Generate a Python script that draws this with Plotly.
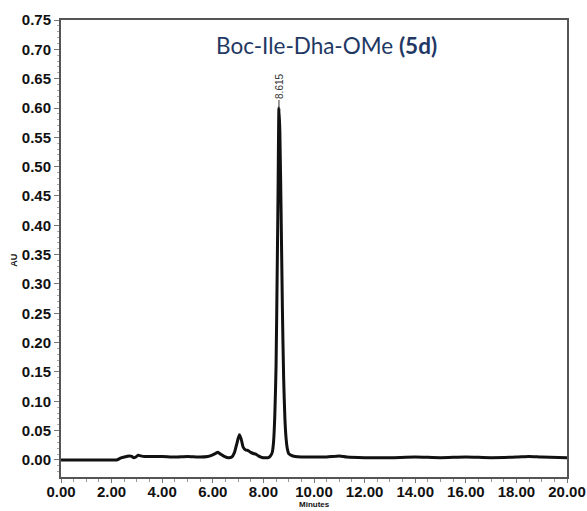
import plotly.graph_objects as go

# Chromatogram trace: retention time (min) and detector response (AU)
time_min = [
    0.00, 1.00, 2.00, 2.20, 2.30, 2.40, 2.50, 2.60, 2.70, 2.80, 2.86, 2.95,
    3.05, 3.15, 3.30, 3.60, 4.00, 4.50, 5.00, 5.50, 5.80, 5.95, 6.10, 6.20,
    6.30, 6.45, 6.60, 6.75, 6.85, 6.95, 7.05, 7.12, 7.20, 7.30, 7.40, 7.50,
    7.60, 7.70, 7.80, 7.90, 8.00, 8.10, 8.20, 8.28, 8.35, 8.40, 8.45, 8.50,
    8.55, 8.58, 8.615, 8.65, 8.70, 8.75, 8.80, 8.85, 8.90, 8.95, 9.00, 9.10,
    9.25, 9.50, 10.00, 10.50, 11.00, 11.30, 12.00, 13.00, 14.00, 15.00,
    16.00, 17.00, 18.00, 18.50, 19.00, 20.00,
]
absorbance_au = [
    0.000, 0.000, 0.000, 0.000, 0.002, 0.004, 0.005, 0.006, 0.007, 0.006, 0.004, 0.005,
    0.008, 0.007, 0.006, 0.006, 0.006, 0.005, 0.006, 0.005, 0.006, 0.008, 0.011, 0.013,
    0.010, 0.006, 0.004, 0.005, 0.012, 0.028, 0.043, 0.036, 0.022, 0.017, 0.016, 0.013,
    0.011, 0.010, 0.007, 0.005, 0.004, 0.004, 0.004, 0.007, 0.013, 0.030, 0.075, 0.160,
    0.340, 0.460, 0.600, 0.560, 0.420, 0.260, 0.140, 0.070, 0.035, 0.018, 0.011, 0.008,
    0.006, 0.005, 0.005, 0.005, 0.007, 0.005, 0.004, 0.004, 0.005, 0.004,
    0.005, 0.004, 0.005, 0.006, 0.005, 0.004,
]

peak_time = 8.615
peak_height = 0.600

x_ticks = [0, 2, 4, 6, 8, 10, 12, 14, 16, 18, 20]
y_ticks = [0.00, 0.05, 0.10, 0.15, 0.20, 0.25, 0.30, 0.35, 0.40, 0.45,
           0.50, 0.55, 0.60, 0.65, 0.70, 0.75]

title_text = "Boc-Ile-Dha-OMe <b>(5d)</b>"

fig = go.Figure()
fig.add_trace(go.Scatter(
    x=time_min, y=absorbance_au, mode="lines",
    line=dict(color="#111111", width=3, shape="spline", smoothing=0.6),
    hoverinfo="skip", showlegend=False,
))

tick_font = dict(family="Liberation Sans, Arial", size=15, color="#111111", weight="bold")

fig.update_layout(
    width=587, height=511,
    margin=dict(l=61, r=20, t=20, b=34, autoexpand=False),
    paper_bgcolor="white", plot_bgcolor="white",
    template="none",
    xaxis=dict(
        range=[0, 20], tickvals=x_ticks, ticktext=[f"{v:.2f}" for v in x_ticks],
        showgrid=False, zeroline=False, automargin=False,
        ticklabeloverflow="allow", ticklabelstandoff=-4,
        showline=True, linecolor="#555555", linewidth=2, mirror=True,
        ticks="outside", ticklen=4, tickcolor="#777777", tickwidth=1,
        minor=dict(dtick=0.5, ticks="outside", ticklen=3, tickcolor="#999999"),
        tickfont=tick_font,
    ),
    yaxis=dict(
        range=[-0.029, 0.75], tickvals=y_ticks, ticktext=[f"{v:.2f}" for v in y_ticks],
        showgrid=False, zeroline=False, automargin=False,
        showline=True, linecolor="#555555", linewidth=2, mirror=True,
        ticks="outside", ticklen=5, tickcolor="#777777", tickwidth=1,
        minor=dict(dtick=0.01, ticks="outside", ticklen=2, tickcolor="#aaaaaa"),
        tickfont=tick_font,
    ),
    annotations=[
        dict(text=title_text, xref="paper", yref="paper", x=0.524, y=0.945,
             showarrow=False, xanchor="center", yanchor="middle",
             font=dict(family="Lato, Open Sans", size=22.5, color="#1F3864")),
        dict(text=f"{peak_time:.3f}", x=peak_time, y=peak_height,
             xref="x", yref="y", showarrow=True, arrowhead=0, arrowwidth=1,
             arrowcolor="#333333", ax=0, ay=-22, textangle=-90,
             font=dict(family="Liberation Sans, Arial", size=10, color="#333333")),
        dict(text="<b>AU</b>", xref="paper", yref="paper", x=-0.093, y=0.475,
             showarrow=False, textangle=-90, xanchor="center", yanchor="middle",
             font=dict(family="Liberation Sans, Arial", size=9, color="#111111")),
        dict(text="<b>Minutes</b>", xref="paper", yref="paper", x=0.50, y=-0.0733,
             showarrow=False, xanchor="center", yanchor="bottom", borderpad=0,
             font=dict(family="Liberation Sans, Arial", size=8, color="#111111")),
    ],
)

fig.write_html("out.html")
